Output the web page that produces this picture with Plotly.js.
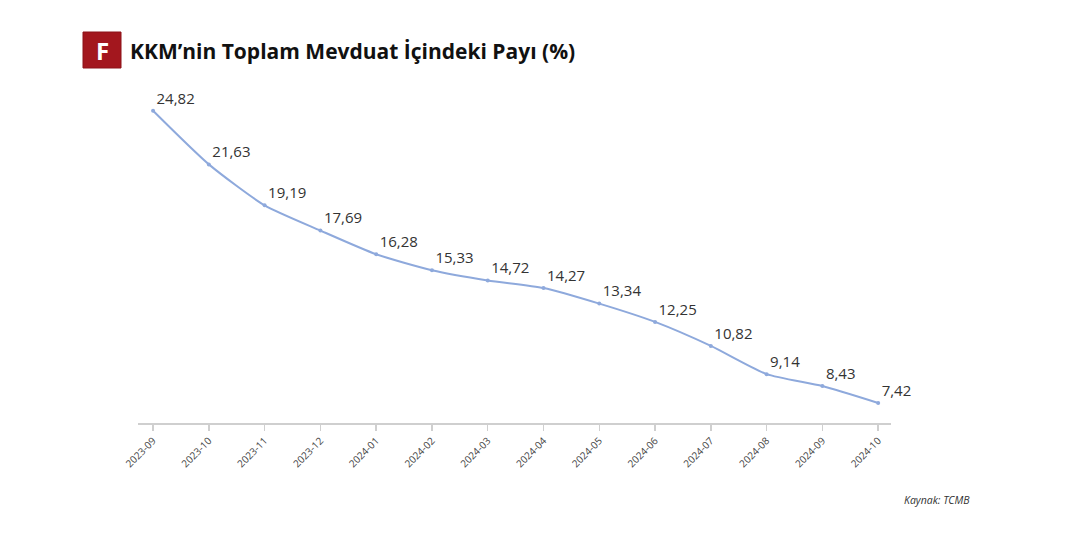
<!DOCTYPE html>
<html><head><meta charset="utf-8">
<script src="https://cdn.plot.ly/plotly-3.0.1.min.js"></script>
<style>html,body{margin:0;padding:0;background:#fff;}#chart{width:1080px;height:553px;}</style>
</head><body><div id="chart"></div>
<script>
const months = ["2023-09","2023-10","2023-11","2023-12","2024-01","2024-02","2024-03","2024-04","2024-05","2024-06","2024-07","2024-08","2024-09","2024-10"];
const kkmShare = [24.82,21.63,19.19,17.69,16.28,15.33,14.72,14.27,13.34,12.25,10.82,9.14,8.43,7.42];
const titleText = "KKM’nin Toplam Mevduat İçindeki Payı (%)";
const sourceText = "Kaynak: TCMB";

const trace = {
  x: months, y: kkmShare, type: 'scatter', mode: 'lines+markers+text',
  line: {color: '#8ea9dc', width: 2, shape: 'spline', smoothing: 0.6},
  marker: {color: '#8ea9dc', size: 4},
  texttemplate: '%{y:.2f}', textposition: 'top right',
  textfont: {family: 'Open Sans, sans-serif', size: 15, color: '#333'},
  hoverinfo: 'skip', cliponaxis: false
};
const layout = {
  width: 1080, height: 553, separators: ',.',
  margin: {l: 138, r: 189, t: 91, b: 130},
  paper_bgcolor: '#fff', plot_bgcolor: '#fff', showlegend: false,
  xaxis: {type: 'category', range: [-0.27, 13.23], showgrid: false, zeroline: false,
    showline: true, linecolor: '#cfcfcf', linewidth: 2,
    ticks: 'outside', ticklen: 6, tickcolor: '#cfcfcf', tickwidth: 1.5,
    tickangle: -45, tickfont: {family: 'Open Sans, sans-serif', size: 10, color: '#444'}},
  yaxis: {range: [6.23, 26], visible: false, fixedrange: true},
  annotations: []
};
// pixel helpers for title block (paper coords)
const pw = 1080 - 138 - 189, ph = 553 - 91 - 130;
const px = x => (x - 138) / pw, py = y => (553 - 130 - y) / ph;
layout.shapes = [{type: 'rect', xref: 'paper', yref: 'paper',
  x0: px(83), x1: px(121), y0: py(68), y1: py(32),
  fillcolor: '#a3171e', line: {color: '#8c1218', width: 1}}];
layout.annotations.push(
  {xref: 'paper', yref: 'paper', x: px(102), y: py(50), xanchor: 'center', yanchor: 'middle',
   text: '<b>F</b>', showarrow: false, font: {family: 'Open Sans, sans-serif', size: 24, color: '#fff'}},
  {xref: 'paper', yref: 'paper', x: px(128), y: py(51), xanchor: 'left', yanchor: 'middle',
   text: '<b>' + titleText + '</b>', showarrow: false,
   font: {family: 'Open Sans, sans-serif', size: 21, color: '#111'}},
  {xref: 'paper', yref: 'paper', x: px(972), y: py(500), xanchor: 'right', yanchor: 'middle',
   text: sourceText, showarrow: false,
   font: {family: 'Open Sans, sans-serif', size: 10.5, color: '#333', style: 'italic'}}
);
Plotly.newPlot('chart', [trace], layout, {displayModeBar: false, staticPlot: true});
</script></body></html>
